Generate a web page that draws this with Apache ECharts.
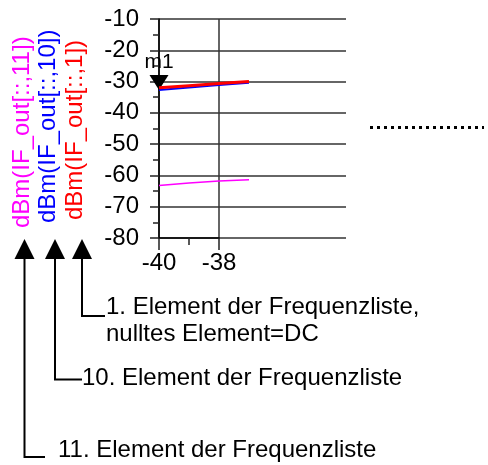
<!DOCTYPE html>
<html>
<head>
<meta charset="utf-8">
<script src="https://cdn.jsdelivr.net/npm/echarts@6/dist/echarts.min.js"></script>
<style>
html,body{margin:0;padding:0;background:#fff}
#main{width:488px;height:465px}
</style>
</head>
<body>
<div id="main"></div>
<script>
// Daten
var freq = [-40, -39, -38, -37];
var out1 = [-32.0, -31.3, -30.6, -30.0];    // dBm(IF_out[::,1])
var out10 = [-32.7, -31.9, -31.1, -30.4];   // dBm(IF_out[::,10])
var out11 = [-63.2, -62.4, -61.8, -61.4];   // dBm(IF_out[::,11])
var yMin = -80, yMax = -10, yStep = 10;
var xTicks = [-40, -38];
var m1 = [-40, -32.7];

var FONT = 'Liberation Sans, Arial, sans-serif';

function pairs(xs, ys){
	var r = [];
	for(var i = 0; i < xs.length; i++){
		r.push([xs[i], ys[i]]);
	}
	return r;
}

//Pfeile und Beschriftungen
function arrow(x, yEnd, xEnd){
	return [{
		type: 'polyline',
		shape: {points: [[x, 259], [x, yEnd], [xEnd, yEnd]]},
		style: {stroke: '#000', lineWidth: 2, fill: null}
	},{
		type: 'polygon',
		shape: {points: [[x - 10, 259], [x, 239], [x + 10, 259]]},
		style: {fill: '#000'}
	}];
}
function label(x, y, txt, color, rot){
	return {
		type: 'text',
		x: x, y: y,
		rotation: rot || 0,
		style: {text: txt, fill: color || '#000', font: '24px ' + FONT, textAlign: 'left', textVerticalAlign: 'middle'}
	};
}

var graphics = [].concat(
	arrow(82, 316, 105),
	arrow(55, 379.5, 82),
	arrow(24.5, 457, 45),
	[
		label(106, 307, '1. Element der Frequenzliste,'),
		label(106, 334, 'nulltes Element=DC'),
		label(82, 378, '10. Element der Frequenzliste'),
		label(58, 450, '11. Element der Frequenzliste'),
		label(22, 228, 'dBm(IF_out[::,11])', '#ff00ff', Math.PI / 2),
		label(48, 223, 'dBm(IF_out[::,10])', '#0000ff', Math.PI / 2),
		label(75, 220, 'dBm(IF_out[::,1])', '#ff0000', Math.PI / 2),
		{
			type: 'line',
			shape: {x1: 370, y1: 127.5, x2: 484, y2: 127.5},
			style: {stroke: '#000', lineWidth: 3, lineDash: [3, 4]}
		}
	]
);

var chart = echarts.init(document.getElementById('main'));
chart.setOption({
	animation: false,
	textStyle: {fontFamily: FONT},
	grid: [
		{left: 159, top: 19, width: 187, height: 219},
		{left: 159, top: 19, width: 60, height: 219}
	],
	xAxis: [{
		type: 'value', gridIndex: 0,
		min: -40, max: -40 + 187 / 30,
		show: false
	},{
		type: 'value', gridIndex: 1,
		min: -40, max: -38, interval: 2,
		axisLine: {show: true, lineStyle: {color: '#000', width: 1.5}},
		axisTick: {show: true, length: 12, lineStyle: {color: '#222', width: 1.5}},
		minorTick: {show: true, splitNumber: 2, length: 7, lineStyle: {color: '#222', width: 1.5}},
		splitLine: {show: true, lineStyle: {color: '#333', width: 1.5}},
		axisLabel: {color: '#000', fontSize: 24, margin: 13, fontFamily: FONT,
			formatter: function(v){ return xTicks.indexOf(v) >= 0 ? String(v) : ''; }}
	}],
	yAxis: [{
		type: 'value', gridIndex: 0,
		min: yMin, max: yMax, interval: yStep,
		axisLine: {show: true, lineStyle: {color: '#000', width: 1.5}},
		axisTick: {show: true, length: 9, lineStyle: {color: '#222', width: 1.5}},
		minorTick: {show: true, splitNumber: 2, length: 6, lineStyle: {color: '#222', width: 1.5}},
		splitLine: {show: true, lineStyle: {color: '#333', width: 1.5}},
		axisLabel: {color: '#000', fontSize: 24, margin: 20, fontFamily: FONT}
	},{
		type: 'value', gridIndex: 1,
		min: yMin, max: yMax,
		show: false
	}],
	series: [{
		name: 'dBm(IF_out[::,11])',
		type: 'line',
		data: pairs(freq, out11),
		showSymbol: false,
		lineStyle: {color: '#ff00ff', width: 1.5},
		z: 3
	},{
		name: 'dBm(IF_out[::,10])',
		type: 'line',
		data: pairs(freq, out10),
		showSymbol: false,
		lineStyle: {color: '#0000ff', width: 2},
		z: 4,
		markPoint: {
			symbol: 'path://M0,0L20,0L10,16Z',
			symbolSize: [19, 15],
			symbolOffset: [0, '-50%'],
			itemStyle: {color: '#000'},
			label: {show: true, position: 'top', distance: 2, formatter: 'm1', color: '#000', fontSize: 21, fontFamily: FONT},
			data: [{coord: m1}]
		}
	},{
		name: 'dBm(IF_out[::,1])',
		type: 'line',
		data: pairs(freq, out1),
		showSymbol: false,
		lineStyle: {color: '#ff0000', width: 3},
		z: 5
	}],
	graphic: graphics
});
</script>
</body>
</html>
